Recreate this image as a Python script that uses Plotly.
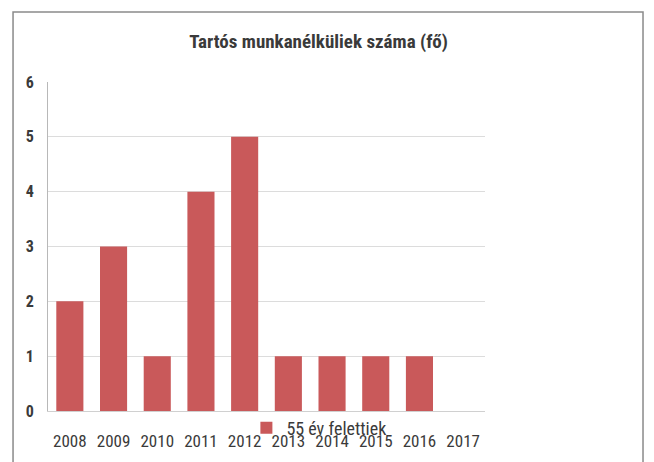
import plotly.graph_objects as go

# data
years = ["2008", "2009", "2010", "2011", "2012", "2013", "2014", "2015", "2016", "2017"]
over_55 = [2, 3, 1, 4, 5, 1, 1, 1, 1, None]
y_ticks = [0, 1, 2, 3, 4, 5, 6]

bar_color = "#c9595a"
font_family = "Liberation Sans Narrow, Roboto Condensed, Arial Narrow, Liberation Sans, sans-serif"

fig = go.Figure()
fig.add_trace(go.Bar(
    x=years, y=over_55, name="55 év felettiek",
    marker=dict(color=bar_color, line=dict(width=0)),
))

fig.update_layout(
    width=654, height=462,
    paper_bgcolor="white", plot_bgcolor="white",
    margin=dict(l=40, r=177, t=74, b=59),
    bargap=0.38,
    showlegend=True,
    font=dict(family=font_family, color="#404040"),
    title=dict(
        text="<b>Tartós munkanélküliek száma (fő)</b>",
        x=0.475, xanchor="center", y=0.927, yanchor="middle",
        font=dict(size=19, color="#3a3a3a", family=font_family),
    ),
    legend=dict(
        orientation="h", x=0.454, y=-0.052, xanchor="left", yanchor="middle",
        bgcolor="rgba(0,0,0,0)", font=dict(size=18, color="#3a3a3a"),
        itemwidth=30,
    ),
    xaxis=dict(
        showgrid=False, showline=True, linecolor="#d0d0d0", ticks="",
        tickfont=dict(size=17, color="#3a3a3a"), ticklabelstandoff=15,
        automargin=False,
    ),
    yaxis=dict(
        range=[0, 6], tickvals=y_ticks, ticktext=[f"<b>{v}</b>" for v in y_ticks],
        showgrid=True, gridcolor="#dcdcdc",
        showline=True, linecolor="#b8b8b8", zeroline=False, ticks="",
        tickfont=dict(size=16, color="#3a3a3a"), ticklabelstandoff=10,
        automargin=False,
    ),
    shapes=[dict(
        type="rect", xref="paper", yref="paper",
        x0=-0.08, x1=1.3616, y0=-0.25, y1=1.213,
        line=dict(color="#8a8a8a", width=1.5),
    )],
)

fig.write_html("out.html")
